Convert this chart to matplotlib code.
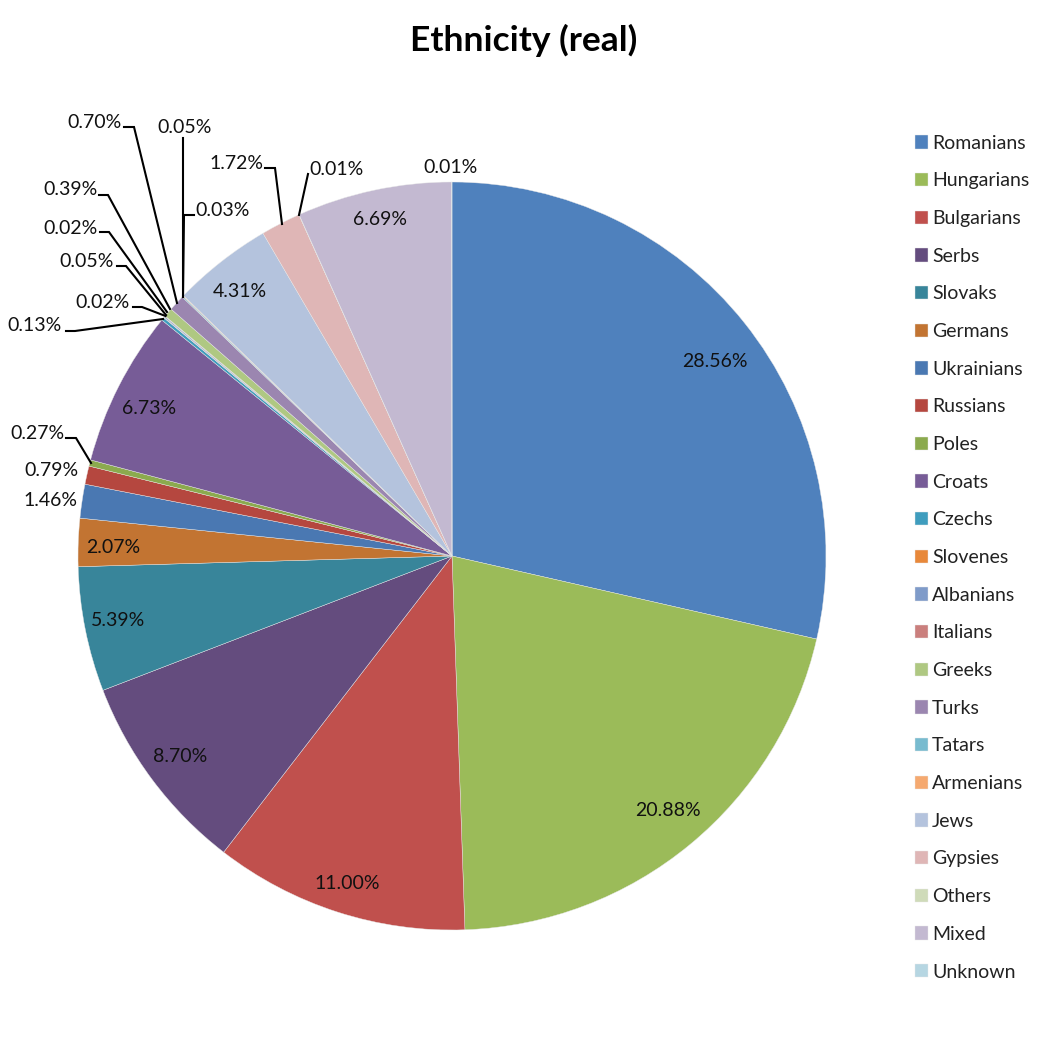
import matplotlib
matplotlib.use("Agg")
import matplotlib.pyplot as plt

plt.rcParams['font.family'] = ['Lato', 'DejaVu Sans']

groups = ["Romanians", "Hungarians", "Bulgarians", "Serbs", "Slovaks", "Germans",
          "Ukrainians", "Russians", "Poles", "Croats", "Czechs", "Slovenes",
          "Albanians", "Italians", "Greeks", "Turks", "Tatars", "Armenians",
          "Jews", "Gypsies", "Others", "Mixed", "Unknown"]
shares = [28.56, 20.88, 11.00, 8.70, 5.39, 2.07, 1.46, 0.79, 0.27, 6.73, 0.13, 0.02,
          0.05, 0.02, 0.39, 0.70, 0.05, 0.03, 4.31, 1.72, 0.01, 6.69, 0.01]
colors = ["#4F81BD", "#9BBB59", "#C0504D", "#644C7E", "#38859A", "#C27432",
          "#4A78B2", "#B5473F", "#8BAA4E", "#775C97", "#3F9DBE", "#E8883A",
          "#7F9BC9", "#CA7F7D", "#AFC882", "#9B86B0", "#78BBCF", "#F5A970",
          "#B4C3DD", "#DFB6B6", "#CFDBB9", "#C3B9D1", "#B6D6E2"]

label_xy = [(715, 360), (668, 809), (347, 882), (180, 755), (118, 619), (113, 546),
            (50, 499), (51, 469), (37, 432), (149, 407), (35, 324), (102, 301),
            (87, 260), (71, 227), (70, 188), (95, 121), (185, 126), (223, 209),
            (240, 290), (236, 162), (337, 168), (380, 218), (451, 166)]
leaders = {
    8: [(66, 438), (76, 438), (91, 463)],
    10: [(66, 331), (75, 331), (163, 319)],
    11: [(133, 307), (142, 307), (165.5, 316)],
    12: [(117, 266), (126, 266), (166, 315)],
    13: [(100, 232), (109, 232), (167, 312)],
    14: [(99, 195), (108, 195), (170, 309)],
    15: [(124, 127), (134, 127), (177, 303)],
    16: [(183, 138), (183, 297)],
    17: [(194, 215), (184, 215), (183, 297)],
    19: [(265, 168), (275, 168), (282, 224)],
    20: [(308, 174), (299, 215)],
}

H = 1048
fig = plt.figure(figsize=(10.48, 10.48), dpi=100, facecolor="white")
ax = fig.add_axes([0, 0, 1, 1])

wedges, _ = ax.pie(shares, colors=colors, startangle=90, counterclock=False,
                   center=(452, H - 556), radius=374, frame=True,
                   wedgeprops=dict(linewidth=0.3, edgecolor="#e8e8e8"))
ax.set_xlim(0, H)
ax.set_ylim(0, H)
ax.set_aspect("equal")
ax.axis("off")

for i, (v, (x, y)) in enumerate(zip(shares, label_xy)):
    ax.text(x, H - y - 1.5, f"{v:.2f}%", ha="center", va="center", fontsize=14, color="#111111")

for pts in leaders.values():
    ax.plot([p[0] for p in pts], [H - p[1] for p in pts], color="black", lw=1.5,
            solid_joinstyle="miter", zorder=5)

ax.text(523.5, H - 40, "Ethnicity (real)", ha="center", va="center", fontsize=25.5,
        fontweight="bold", color="black")

leg = ax.legend(wedges, groups, loc="upper left", bbox_to_anchor=(907 / H, 1 - 127 / H),
                bbox_transform=fig.transFigure, frameon=False, fontsize=14,
                labelspacing=1.063, handlelength=0.67, handleheight=0.67,
                handletextpad=0.21, borderpad=0.4, borderaxespad=0, labelcolor="#222222")

fig.savefig("out.png", dpi=100)
